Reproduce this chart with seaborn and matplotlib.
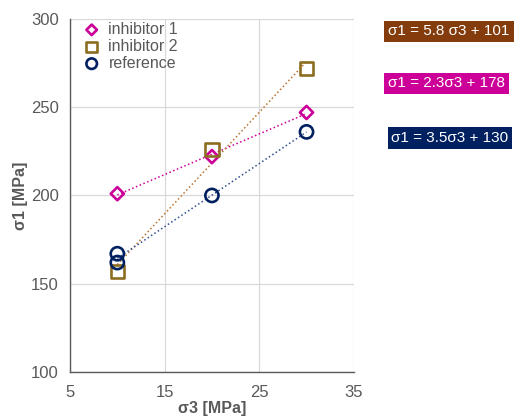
import numpy as np
import pandas as pd
import seaborn as sns
import matplotlib.pyplot as plt

# data
s3_inh1 = [10, 20, 30]
s1_inh1 = [201, 222, 247]
s3_inh2 = [10, 20, 30]
s1_inh2 = [157, 226, 272]
s3_ref = [10, 10, 20, 30]
s1_ref = [167, 162, 200, 236]

labels = ['inhibitor 1', 'inhibitor 2', 'reference']
equations = ['σ1 = 5.8 σ3 + 101', 'σ1 = 2.3σ3 + 178', 'σ1 = 3.5σ3 + 130']

sns.set_style('white')
plt.rcParams['font.family'] = ['Liberation Sans', 'DejaVu Sans']

gray = '#595959'
magenta = '#CC0099'
olive = '#8C6D1F'
navy = '#002060'
brown_line = '#B8722C'

fig = plt.figure(figsize=(5.15, 4.19), dpi=100)
ax = fig.add_axes([0.136, 0.112, 0.551, 0.843])

series = [
    (s3_inh1, s1_inh1, 'D', 45, magenta, magenta, labels[0]),
    (s3_inh2, s1_inh2, 's', 90, olive, brown_line, labels[1]),
    (s3_ref, s1_ref, 'o', 90, navy, '#2E4E8F', labels[2]),
]

# trend lines first
for xs, ys, mk, sz, col, lcol, lab in series:
    df = pd.DataFrame({'x': xs, 'y': ys})
    sns.regplot(data=df, x='x', y='y', scatter=False, ci=None, ax=ax,
                line_kws={'color': lcol, 'linestyle': ':', 'linewidth': 1.1})

for xs, ys, mk, sz, col, lcol, lab in series:
    df = pd.DataFrame({'x': xs, 'y': ys})
    sns.scatterplot(data=df, x='x', y='y', marker=mk, s=sz, ax=ax,
                    facecolor='none', edgecolor=col, linewidth=1.9,
                    label=lab, zorder=3)

ax.set_xlim(5, 35)
ax.set_ylim(100, 300)
ax.set_xticks([5, 15, 25, 35])
ax.set_yticks([100, 150, 200, 250, 300])
ax.grid(True, color='#D9D9D9', linewidth=0.9)
ax.set_axisbelow(True)

for side in ['top', 'right']:
    ax.spines[side].set_visible(False)
for side in ['left', 'bottom']:
    ax.spines[side].set_color(gray)
    ax.spines[side].set_linewidth(1.0)

ax.tick_params(axis='both', colors=gray, labelsize=12, length=4, width=1)
ax.tick_params(axis='x', direction='inout', pad=7)
ax.tick_params(axis='y', direction='out', pad=4)

ax.set_xlabel('σ3 [MPa]', fontsize=11.5, fontweight='bold', color=gray, labelpad=1)
ax.set_ylabel('σ1 [MPa]', fontsize=11.5, fontweight='bold', color=gray, labelpad=2)

leg = ax.legend(loc='upper left', frameon=False, fontsize=11.5, markerscale=0.8,
                handletextpad=0.25, labelspacing=0.12, borderaxespad=0.1,
                borderpad=0.1, handlelength=1.6, bbox_to_anchor=(0.02, 1.0))
for t in leg.get_texts():
    t.set_color(gray)

# equation boxes
box_cols = ['#843C0C', '#CC0099', '#002060']
box_pos = [(0.754, 0.925), (0.754, 0.801), (0.760, 0.670)]
for eq, c, (bx, by) in zip(equations, box_cols, box_pos):
    fig.text(bx, by, eq, color='white', fontsize=11, va='center', ha='left',
             bbox=dict(boxstyle='square,pad=0.25', facecolor=c, edgecolor='none'))

fig.savefig('out.png', dpi=100)
